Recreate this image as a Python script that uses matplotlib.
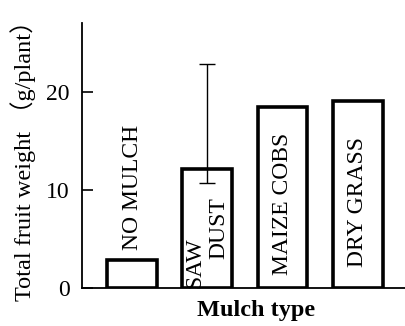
import matplotlib
matplotlib.use("Agg")
import matplotlib.pyplot as plt

mulch = ["NO MULCH", "SAW DUST", "MAIZE COBS", "DRY GRASS"]
weight = [2.85, 12.1, 18.4, 19.1]
err_low = [0.0, 1.4, 0.0, 0.0]
err_high = [0.0, 10.7, 0.0, 0.0]
yticks = [0, 10, 20]

plt.rcParams["font.family"] = ["Liberation Serif", "Noto Sans CJK JP"]

fig = plt.figure(figsize=(4.05, 3.26), dpi=100)
ax = fig.add_axes([82 / 405, 38 / 326, 323 / 405, 265 / 326])

x = list(range(len(mulch)))
ax.bar(x, weight, width=0.66, facecolor="white", edgecolor="black", linewidth=2.6, zorder=2)
ax.errorbar([1], [weight[1]], yerr=[[err_low[1]], [err_high[1]]], fmt="none",
            ecolor="black", elinewidth=1.0, capsize=6, capthick=1.0, zorder=3)

# labels written inside the bars
fs = 17
ax.text(0, 3.9, "NO MULCH", rotation=90, ha="center", va="bottom", fontsize=fs)
ax.text(0.83, 0.0, "SAW", rotation=90, ha="center", va="bottom", fontsize=fs, zorder=4)
ax.text(1.15, 3.0, "DUST", rotation=90, ha="center", va="bottom", fontsize=fs, zorder=4)
ax.text(2, 1.3, "MAIZE COBS", rotation=90, ha="center", va="bottom", fontsize=fs)
ax.text(3, 2.1, "DRY GRASS", rotation=90, ha="center", va="bottom", fontsize=fs)

ax.set_xlim(-0.664, 3.625)
ax.set_ylim(0, 27)
ax.set_yticks(yticks)
ax.set_xticks([])
ax.tick_params(axis="y", direction="in", length=8, width=1.2, pad=9, labelsize=17)
for side in ("top", "right"):
    ax.spines[side].set_visible(False)
ax.spines["left"].set_linewidth(1.3)
ax.spines["bottom"].set_linewidth(1.3)

fig.text(23 / 405, 1 - 155 / 326, "Total fruit weight （g/plant）", rotation=90,
         ha="center", va="center", fontsize=17.5)
fig.text(256 / 405, 1 - 316 / 326, "Mulch type", ha="center", va="baseline",
         fontsize=17.5, fontweight="bold")

fig.savefig("out.png", dpi=100)
